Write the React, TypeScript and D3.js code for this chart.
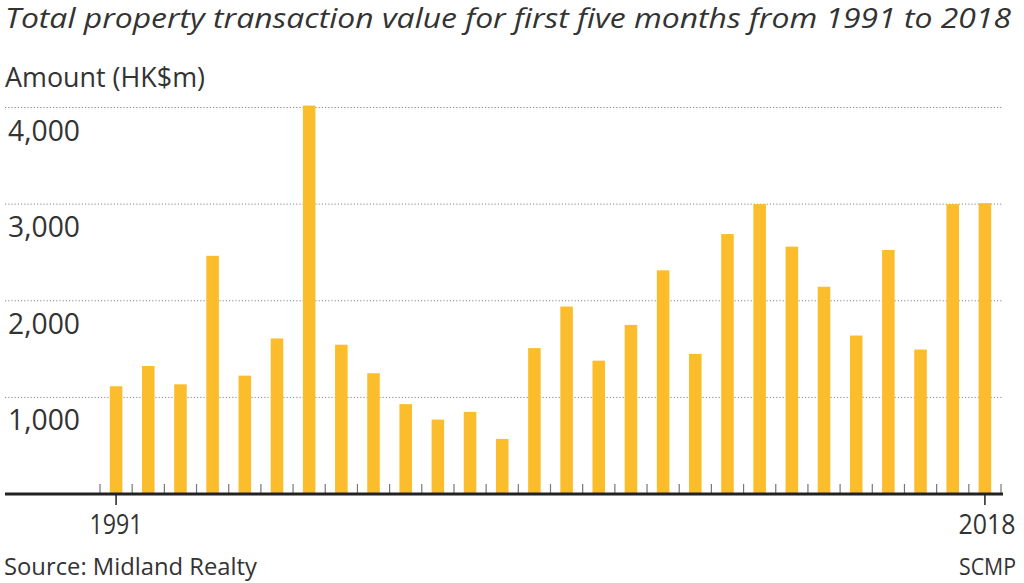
import * as d3 from "d3";

// first five months, HK$m
const years = d3.range(1991, 2019);
const amounts = [
  1115, 1325, 1135, 2465, 1225, 1610, 4020, 1545, 1250, 930, 770, 850, 570,
  1510, 1940, 1380, 1750, 2315, 1450, 2690, 3000, 2560, 2145, 1640, 2525,
  1495, 3000, 3010,
];
const yTicks = [1000, 2000, 3000, 4000];
const labelYears = [1991, 2018];

const WIDTH = 1024;
const HEIGHT = 583;
const FONT = "'Open Sans', 'Noto Sans', sans-serif";
const TEXT = "#333";
const BAR = "#fbbd2c";

const x = d3
  .scaleBand<number>()
  .domain(years)
  .range([100, 1001])
  .paddingInner(0.61)
  .paddingOuter(0.305);
const y = d3.scaleLinear().domain([0, 4000]).range([494, 107.5]);
const step = x.step();
const center = (yr: number) => (x(yr) ?? 0) + x.bandwidth() / 2;
const boundaries = d3.range(years.length + 1).map((i) => 100 + i * step);

const App = () => {
  return (
    <div style={{ position: "absolute", left: 0, top: 0 }}>
      <svg width={WIDTH} height={HEIGHT} style={{ display: "block" }}>
        <rect width={WIDTH} height={HEIGHT} fill="#fff" />
        <text
          x={5}
          y={28}
          fontFamily={FONT}
          fontStyle="italic"
          fontSize={26.5}
          fill={TEXT}
          textLength={1006}
          lengthAdjust="spacingAndGlyphs"
        >
          Total property transaction value for first five months from 1991 to
          2018
        </text>
        <text
          x={5}
          y={87}
          fontFamily={FONT}
          fontSize={27}
          fill={TEXT}
          textLength={200}
          lengthAdjust="spacingAndGlyphs"
        >
          Amount (HK$m)
        </text>

        <g>
          {yTicks.map((t) => (
            <g key={t}>
              <line
                x1={5}
                x2={1003}
                y1={y(t)}
                y2={y(t)}
                stroke="#888"
                strokeWidth={1}
                strokeDasharray="1.2,2"
              />
              <text
                x={8}
                y={y(t) + 33}
                fontFamily={FONT}
                fontSize={29}
                fill={TEXT}
                textLength={72}
                lengthAdjust="spacingAndGlyphs"
              >
                {d3.format(",")(t)}
              </text>
            </g>
          ))}
        </g>

        <g fill={BAR}>
          {years.map((yr, i) => (
            <rect
              key={yr}
              x={x(yr)}
              y={y(amounts[i])}
              width={x.bandwidth()}
              height={y(0) - y(amounts[i])}
            />
          ))}
        </g>

        <g stroke="#777" strokeWidth={1.2}>
          {boundaries.map((bx, i) => (
            <line key={i} x1={bx} x2={bx} y1={y(0) - 10} y2={y(0)} />
          ))}
        </g>
        <line
          x1={5}
          x2={1003}
          y1={y(0)}
          y2={y(0)}
          stroke="#222"
          strokeWidth={3}
        />
        {labelYears.map((yr) => (
          <g key={yr}>
            <line
              x1={center(yr)}
              x2={center(yr)}
              y1={y(0)}
              y2={y(0) + 11}
              stroke="#222"
              strokeWidth={1.5}
            />
            <text
              x={center(yr) + (yr === 2018 ? 2 : 0)}
              y={534}
              textAnchor="middle"
              fontFamily={FONT}
              fontSize={28}
              fill={TEXT}
              textLength={yr === 2018 ? 57 : 53}
              lengthAdjust="spacingAndGlyphs"
            >
              {yr}
            </text>
          </g>
        ))}

        <text
          x={4}
          y={575}
          fontFamily={FONT}
          fontSize={24}
          fill={TEXT}
          textLength={253}
          lengthAdjust="spacingAndGlyphs"
        >
          Source: Midland Realty
        </text>
        <text
          x={1016}
          y={575}
          textAnchor="end"
          fontFamily={FONT}
          fontSize={24}
          fill={TEXT}
          textLength={57}
          lengthAdjust="spacingAndGlyphs"
        >
          SCMP
        </text>
      </svg>
    </div>
  );
};

export default App;
